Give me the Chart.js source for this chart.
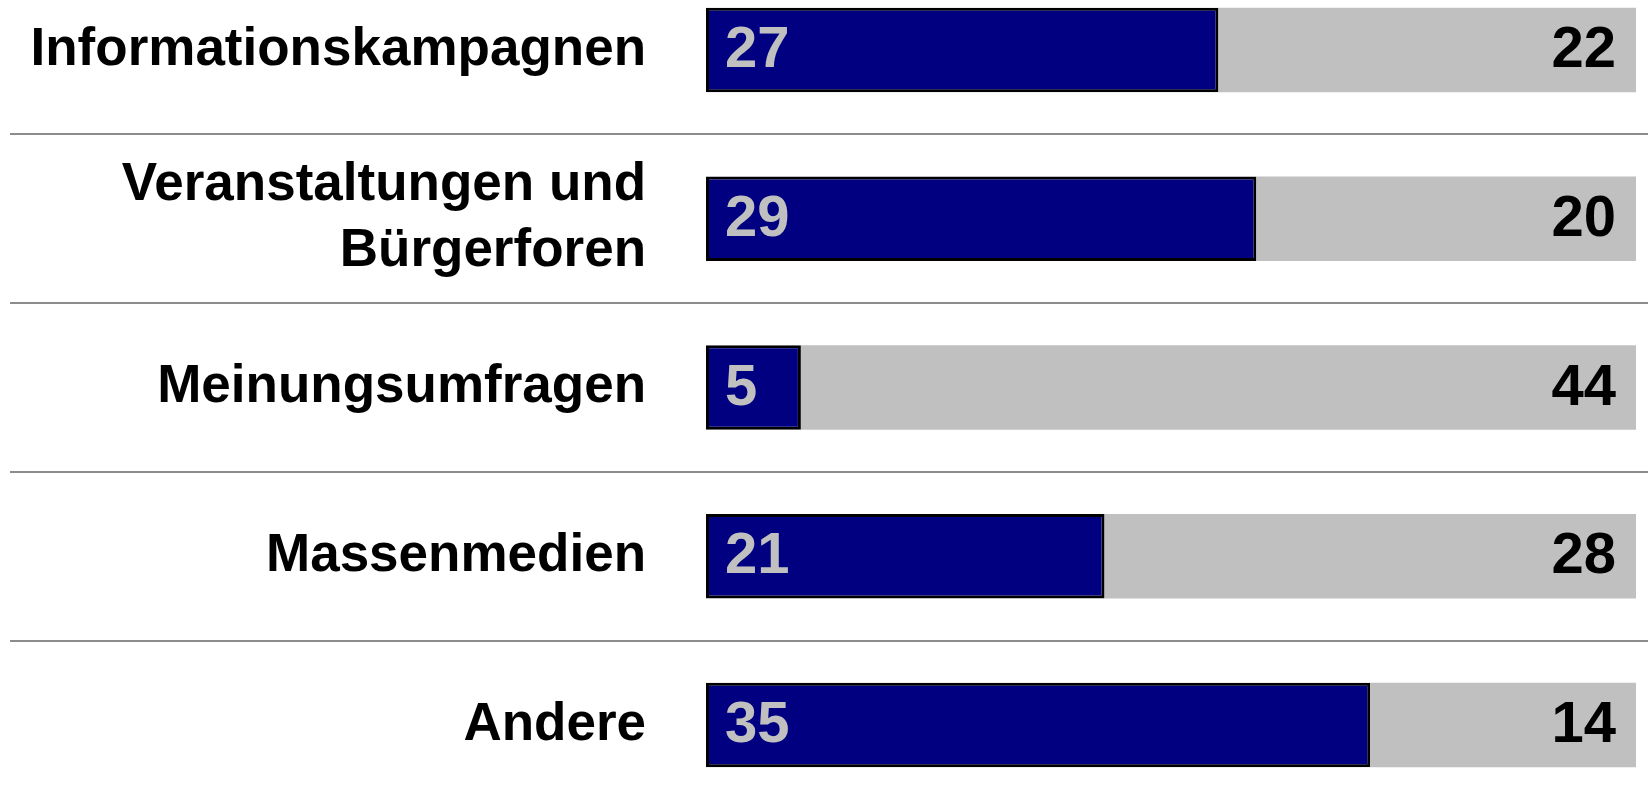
<!DOCTYPE html>
<html>
<head>
<meta charset="utf-8">
<script src="https://cdn.jsdelivr.net/npm/chart.js@4/dist/chart.umd.min.js"></script>
<style>
  body { margin: 0; background: #fff; }
</style>
</head>
<body>
<canvas id="mycanvas" width="1648" height="800"></canvas>
<script>
// data
var categories = [
  'Informationskampagnen',
  ['Veranstaltungen und', 'Bürgerforen'],
  'Meinungsumfragen',
  'Massenmedien',
  'Andere'
];
var yesValues = [27, 29, 5, 21, 35];
var noValues = [22, 20, 44, 28, 14];

Chart.defaults.font.family = "'Liberation Sans', Arial, sans-serif";

// horizontal rules between the rows, running across the whole width
var separators = {
  id: 'separators',
  beforeDatasetsDraw: function(chart) {
    var ctx = chart.ctx;
    var y = chart.scales.y;
    ctx.save();
    ctx.strokeStyle = '#8c8c8c';
    ctx.lineWidth = 2;
    for (var i = 0; i < categories.length - 1; i++) {
      var py = Math.round((y.getPixelForValue(i) + y.getPixelForValue(i + 1)) / 2);
      ctx.beginPath();
      ctx.moveTo(10, py);
      ctx.lineTo(chart.width, py);
      ctx.stroke();
    }
    ctx.restore();
  }
};

// numbers inside the bars
var barNumbers = {
  id: 'barNumbers',
  afterDatasetsDraw: function(chart) {
    var ctx = chart.ctx;
    ctx.save();
    ctx.font = 'bold 58px ' + Chart.defaults.font.family;
    ctx.textBaseline = 'middle';
    chart.getDatasetMeta(0).data.forEach(function(bar, i) {
      ctx.fillStyle = '#c0c0c0';
      ctx.textAlign = 'left';
      ctx.fillText(yesValues[i], bar.base + 19, bar.y + 1);
    });
    chart.getDatasetMeta(1).data.forEach(function(bar, i) {
      ctx.fillStyle = '#000000';
      ctx.textAlign = 'right';
      ctx.fillText(noValues[i], bar.x - 20, bar.y + 1);
    });
    ctx.restore();
  }
};

var chartdata = {
  labels: categories,
  datasets: [
    {
      data: yesValues,
      backgroundColor: '#000080',
      borderColor: '#000000',
      borderWidth: 3,
      borderSkipped: false,
      clip: false
    },
    {
      data: noValues,
      backgroundColor: '#c0c0c0',
      borderWidth: 0,
      clip: false
    }
  ]
};

var ctx = document.getElementById('mycanvas');
var barGraph = new Chart(ctx, {
  type: 'bar',
  data: chartdata,
  plugins: [separators, barNumbers],
  options: {
    indexAxis: 'y',
    responsive: false,
    animation: false,
    categoryPercentage: 1,
    barPercentage: 0.5,
    layout: { padding: { top: 50, bottom: 75, left: 0, right: 12 } },
    plugins: {
      legend: { display: false },
      tooltip: { enabled: false }
    },
    scales: {
      x: {
        stacked: true,
        min: 0,
        max: 49,
        display: false
      },
      y: {
        stacked: true,
        offset: false,
        grid: { display: false },
        border: { display: false },
        ticks: {
          color: '#000000',
          padding: 52,
          font: { size: 53, weight: 'bold', lineHeight: 1.25 }
        },
        afterFit: function(scale) {
          scale.width = 706;
          scale.paddingTop = 0;
          scale.paddingBottom = 0;
        }
      }
    }
  }
});
</script>
</body>
</html>
